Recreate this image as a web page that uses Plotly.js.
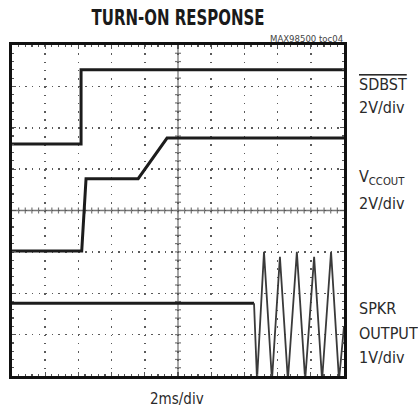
<!DOCTYPE html>
<html>
<head>
<meta charset="utf-8">
<script src="https://cdn.plot.ly/plotly-3.0.1.min.js"></script>
<style>html,body{margin:0;padding:0;background:#fff;}</style>
</head>
<body>
<div id="chart" style="width:418px;height:411px;"></div>
<script>
// Oscilloscope traces, in screen divisions (x: 0..10 div of 2ms, y: 0..8 div)
const sdbstX = [0, 2.08, 2.08, 10];
const sdbstY = [5.61, 5.61, 7.40, 7.40];

const vccoutX = [0, 2.10, 2.23, 3.80, 4.67, 10];
const vccoutY = [3.02, 3.02, 4.77, 4.77, 5.75, 5.75];

const spkrX = [0, 7.29, 7.38, 7.59, 7.83, 8.07, 8.31, 8.58, 8.83, 9.10, 9.34, 9.61, 9.85, 10];
const spkrY = [1.76, 1.76, -0.1, 3.00, -0.1, 2.88, -0.1, 3.00, -0.1, 2.88, -0.1, 3.00, -0.1, 1.2];

const titleText = 'TURN-ON RESPONSE';
const tocText = 'MAX98500 toc04';
const xScaleText = '2ms/div';

// plot frame in pixels
const L = 12, R = 344, T = 45, B = 376;
const px = x => (x - L) / (R - L);
const py = y => (B - y) / (B - T);

const narrow = '"DejaVu Sans Condensed", "Liberation Sans Narrow", "DejaVu Sans", sans-serif';
const labelFont = {family: narrow, size: 16, color: '#2a2a2a'};

const traces = [
  {x: sdbstX, y: sdbstY, mode: 'lines', line: {color: '#1c1c1c', width: 3}, hoverinfo: 'skip'},
  {x: vccoutX, y: vccoutY, mode: 'lines', line: {color: '#1c1c1c', width: 3}, hoverinfo: 'skip'},
  // quiet part of the speaker output (drawn heavier, like the noisy trace) and the tone burst
  {x: spkrX.slice(0, 2), y: spkrY.slice(0, 2), mode: 'lines', line: {color: '#1c1c1c', width: 3}, hoverinfo: 'skip'},
  {x: spkrX.slice(1), y: spkrY.slice(1), mode: 'lines', line: {color: '#3a3a3a', width: 1.8}, hoverinfo: 'skip'}
];

// center graticule lines with small ticks
const shapes = [
  {type: 'line', xref: 'x', yref: 'y', x0: 5, x1: 5, y0: 0, y1: 8, line: {color: '#777', width: 1.3}, layer: 'below'},
  {type: 'line', xref: 'x', yref: 'y', x0: 0, x1: 10, y0: 4, y1: 4, line: {color: '#777', width: 1.3}, layer: 'below'}
];
for (let i = 1; i < 50; i++) {
  const t = i * 0.2;
  shapes.push({type: 'line', xref: 'x', yref: 'y', x0: t, x1: t, ysizemode: 'pixel', yanchor: 4, y0: -3, y1: 3,
    line: {color: '#777', width: 1.2}, layer: 'below'});
}
for (let i = 1; i < 40; i++) {
  const t = i * 0.2;
  shapes.push({type: 'line', xref: 'x', yref: 'y', y0: t, y1: t, xsizemode: 'pixel', xanchor: 5, x0: -3, x1: 3,
    line: {color: '#777', width: 1.2}, layer: 'below'});
}

const ann = (text, x, y, extra) => Object.assign({
  text: text, xref: 'paper', yref: 'paper', x: px(x), y: py(y),
  xanchor: 'left', yanchor: 'middle', showarrow: false, font: labelFont
}, extra || {});

const annotations = [
  ann(tocText, 345, 39, {xanchor: 'right', font: {family: narrow, size: 9.5, color: '#444'}}),
  ann('SDBST', 357, 84, {font: Object.assign({}, labelFont, {lineposition: 'over'})}),
  ann('2V/div', 357, 107),
  ann('V<sub>CCOUT</sub>', 357, 177),
  ann('2V/div', 357, 203),
  ann('SPKR', 357, 308),
  ann('OUTPUT', 357, 333),
  ann('1V/div', 357, 357),
  ann(xScaleText, 177, 399, {xanchor: 'center', font: {family: narrow, size: 15, color: '#2a2a2a'}})
];

const axisCommon = {
  showline: true, linecolor: '#111', linewidth: 3, mirror: 'ticks',
  ticks: 'inside', ticklen: 4, tickwidth: 1.2, tickcolor: '#555',
  showticklabels: false, zeroline: false, showgrid: true,
  gridcolor: '#5a5a5a', gridwidth: 1.5, fixedrange: true
};

const layout = {
  width: 418, height: 411,
  margin: {l: L, r: 418 - R, t: T, b: 411 - B, pad: 0},
  paper_bgcolor: '#fff', plot_bgcolor: '#fff',
  showlegend: false,
  title: {
    text: '<b>' + titleText + '</b>',
    x: 178 / 418, xanchor: 'center', xref: 'container',
    y: 1 - 17 / 411, yanchor: 'middle', yref: 'container',
    font: {family: narrow, size: 22, color: '#1a1a1a', weight: 'bold'}
  },
  xaxis: Object.assign({}, axisCommon, {range: [0, 10], dtick: 1, tick0: 0,
    griddash: '1.5px,6.775px',
    minor: {dtick: 0.2, ticks: 'inside', ticklen: 2, tickcolor: '#555', showgrid: false}}),
  yaxis: Object.assign({}, axisCommon, {range: [0, 8], dtick: 1, tick0: 0,
    griddash: '1.5px,5.14px',
    minor: {dtick: 0.2, ticks: 'inside', ticklen: 2, tickcolor: '#555', showgrid: false}}),
  shapes: shapes,
  annotations: annotations
};

Plotly.newPlot('chart', traces, layout, {staticPlot: true, displayModeBar: false}).then(gd => {
  // condense the heavy title horizontally, like the original condensed typeface
  const t = gd.querySelector('.gtitle');
  if (t) {
    const bb = t.getBBox();
    const cx = bb.x + bb.width / 2;
    const prev = t.getAttribute('transform') || '';
    const sx = 173 / bb.width;
    t.setAttribute('transform', 'translate(' + cx + ',0) scale(' + sx + ',1) translate(' + (-cx) + ',0) ' + prev);
  }
});
</script>
</body>
</html>
